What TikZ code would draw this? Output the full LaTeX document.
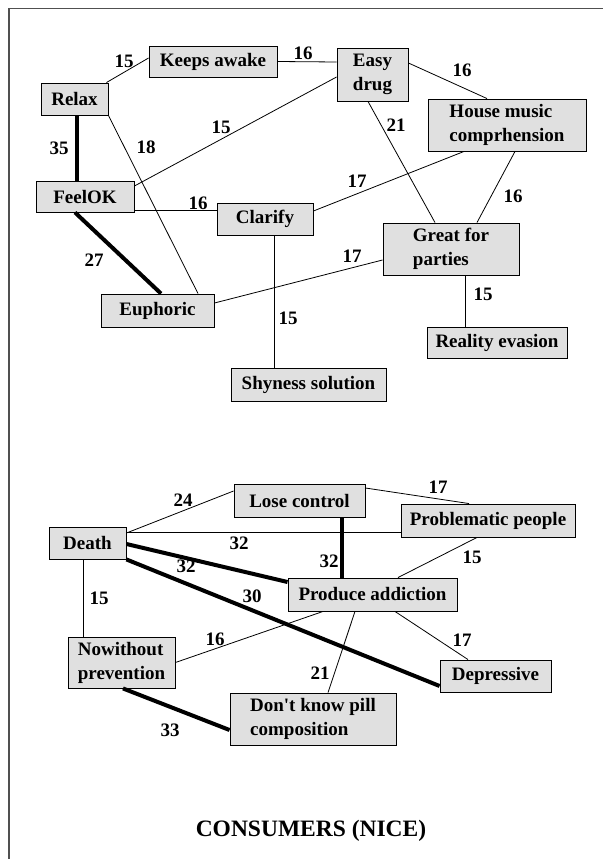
\documentclass[tikz,border=0pt]{standalone}
\usepackage{fontspec}
\setmainfont{Liberation Serif}[Ligatures=TeXOff]
\definecolor{boxgray}{RGB}{224,224,224}
\definecolor{framegray}{RGB}{80,80,80}
\begin{document}
\begin{tikzpicture}[x=1pt,y=-1pt,
  box/.style={draw=black, line width=0.9pt, fill=boxgray, inner sep=0pt,
    font=\fontsize{19}{24}\selectfont\bfseries, align=left},
  num/.style={font=\fontsize{19}{24}\selectfont\bfseries, inner sep=0pt},
  link/.style={draw=black, line width=0.8pt},
  heavy/.style={draw=black, line width=4pt},
  heading/.style={font=\fontsize{23.5}{28}\selectfont\bfseries, inner sep=0pt},
]
\useasboundingbox (0,0) rectangle (603,859);
% page frame (top and left edges)
\draw[framegray, line width=1.3pt] (9,859) -- (9,8.3) -- (603,8.3);

% ---------- upper network ----------
\node[box, minimum width=67pt,  minimum height=32pt] (relax)   at (74.5,99)   {Relax};
\node[box, minimum width=128pt, minimum height=31pt] (keeps)   at (213,61.5)  {Keeps awake};
\node[box, minimum width=71pt,  minimum height=53pt] (easy)    at (372.5,74.5){Easy\\drug};
\node[box, minimum width=158pt, minimum height=52pt] (house)   at (507,125)   {House music\\comprhension};
\node[box, minimum width=98pt,  minimum height=31pt] (feelok)  at (85,196.5)  {FeelOK};
\node[box, minimum width=96pt,  minimum height=32pt] (clarify) at (265,219)   {Clarify};
\node[box, minimum width=136pt, minimum height=52pt] (great)   at (451,249)   {Great for\\parties};
\node[box, minimum width=113pt, minimum height=33pt] (euph)    at (157.5,310.5){Euphoric};
\node[box, minimum width=140pt, minimum height=31pt] (reality) at (497,342.5) {Reality evasion};
\node[box, minimum width=155pt, minimum height=33pt] (shy)     at (308.5,384.5){Shyness solution};

\draw[link] ([xshift=-2pt]relax.north east) -- ([yshift=3.5pt]keeps.west);
\draw[link] (keeps.east) -- ([yshift=12.5pt]easy.west);
\draw[link] ([yshift=11.5pt]easy.east) -- ([xshift=-20pt]house.north);
\draw[heavy] ([xshift=2.5pt]relax.south) -- ([xshift=-8pt]feelok.north);
\draw[link] (relax.south east) -- ([xshift=40.5pt]euph.north);
\draw[link] ([yshift=10.5pt]feelok.east) -- ([yshift=-2.5pt]easy.west);
\draw[link] ([xshift=-4.5pt]easy.south) -- ([xshift=-16pt]great.north);
\draw[link] ([yshift=-13.5pt]feelok.east) -- ([yshift=9pt]clarify.west);
\draw[link] ([xshift=-43pt]house.south) -- ([yshift=8pt]clarify.east);
\draw[link] ([xshift=8pt]house.south) -- ([xshift=26pt]great.north);
\draw[heavy] ([xshift=-10pt]feelok.south) -- ([xshift=3.5pt]euph.north);
\draw[link] ([yshift=7.5pt]euph.east) -- ([yshift=-11pt]great.west);
\draw[link] ([xshift=9pt]clarify.south) -- ([xshift=-34.5pt]shy.north);
\draw[link] ([xshift=14pt]great.south) -- ([xshift=-32pt]reality.north);

\node[num] (n1)  at (124,61)  {15};
\node[num] (n2)  at (303,53)  {16};
\node[num] (n3)  at (462,70)  {16};
\node[num] (n4)  at (59,148)  {35};
\node[num] (n5)  at (146,147) {18};
\node[num] (n6)  at (221,127) {15};
\node[num] (n7)  at (396,125) {21};
\node[num] (n8)  at (198,203) {16};
\node[num] (n9)  at (357,181) {17};
\node[num] (n10) at (513,196) {16};
\node[num] (n11) at (94,260)  {27};
\node[num] (n12) at (352,256) {17};
\node[num] (n13) at (288,318) {15};
\node[num] (n14) at (483,294) {15};

% ---------- lower network ----------
\node[box, minimum width=131pt, minimum height=33pt] (lose)    at (299.5,500.5){Lose control};
\node[box, minimum width=174pt, minimum height=33pt] (probl)   at (488,520.5) {Problematic people};
\node[box, minimum width=77pt,  minimum height=32pt] (death)   at (87.5,543)  {Death};
\node[box, minimum width=169pt, minimum height=33pt] (produce) at (372.5,594.5){Produce addiction};
\node[box, minimum width=107pt, minimum height=51pt] (nowith)  at (121.5,662.5){Nowithout\\prevention};
\node[box, minimum width=111pt, minimum height=32pt] (depr)    at (495.5,676) {Depressive};
\node[box, minimum width=166pt, minimum height=52pt] (pill)    at (313,719)   {Don't know pill\\composition};

\draw[link] ([yshift=10pt]death.east) -- ([yshift=9.5pt]lose.west);
\draw[link] ([yshift=12.5pt]lose.east) -- ([xshift=-19pt]probl.north);
\draw[link] ([yshift=11pt]death.east) -- ([yshift=-11.5pt]probl.west);
\draw[heavy] ([yshift=-1pt]death.east) -- ([yshift=12.5pt]produce.west);
\draw[heavy] ([xshift=42.5pt]lose.south) -- ([xshift=-30.5pt]produce.north);
\draw[link] ([xshift=-11pt]probl.south) -- ([xshift=25.5pt]produce.north);
\draw[heavy] (death.south east) -- ([yshift=-10pt]depr.west);
\draw[link] ([xshift=-4.5pt]death.south) -- ([xshift=-38.5pt]nowith.north);
\draw[link] ([xshift=-49.5pt]produce.south) -- (nowith.east);
\draw[link] ([xshift=22.5pt]produce.south) -- ([xshift=-27.5pt]depr.north);
\draw[link] ([xshift=-17.5pt]produce.south) -- ([xshift=15pt]pill.north);
\draw[heavy] ([xshift=1.5pt]nowith.south) -- ([yshift=-11pt]pill.west);

\node[num] (m1)  at (183,500) {24};
\node[num] (m2)  at (438,487) {17};
\node[num] (m3)  at (239,543) {32};
\node[num] (m4)  at (186,566) {32};
\node[num] (m5)  at (329,561) {32};
\node[num] (m6)  at (472,557) {15};
\node[num] (m7)  at (252,596) {30};
\node[num] (m8)  at (99,598)  {15};
\node[num] (m9)  at (215,639) {16};
\node[num] (m10) at (462,640) {17};
\node[num] (m11) at (320,673) {21};
\node[num] (m12) at (170,730) {33};

\node[heading] (title) at (311,831) {CONSUMERS (NICE)};
\end{tikzpicture}
\end{document}
